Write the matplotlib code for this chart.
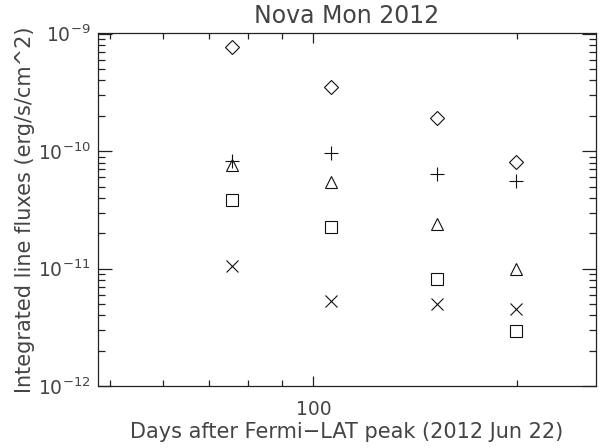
import matplotlib
matplotlib.use("Agg")
from matplotlib import pyplot as plt
from matplotlib import ticker

# days after Fermi-LAT peak
days = [75.8, 106, 152, 199]

# integrated line fluxes (erg/s/cm^2), one list per line
diamond = [7.7e-10, 3.55e-10, 1.93e-10, 8.1e-11]
plus = [8.2e-11, 9.7e-11, 6.45e-11, 5.55e-11]
triangle = [7.6e-11, 5.45e-11, 2.4e-11, 9.9e-12]
square = [3.85e-11, 2.25e-11, 8.1e-12, 2.95e-12]
cross = [1.06e-11, 5.3e-12, 5.05e-12, 4.5e-12]

txt = "#444444"
plt.rcParams["font.family"] = ["DejaVu Sans"]
plt.rcParams["mathtext.fontset"] = "dejavusans"

fig = plt.figure(figsize=(6, 4.48), dpi=100)
ax = fig.add_axes([0.1625, 0.138, 0.8305, 0.789])

mk = dict(linestyle="none", markerfacecolor="none", markeredgecolor="#111111",
          markeredgewidth=0.8)
ax.plot(days, diamond, marker="D", markersize=7.5, **mk)
ax.plot(days, plus, marker="+", markersize=10, **mk)
ax.plot(days, triangle, marker="^", markersize=9, **mk)
ax.plot(days, square, marker="s", markersize=8.5, **mk)
ax.plot(days, cross, marker="x", markersize=9, **mk)

ax.set_xscale("log")
ax.set_yscale("log")
ax.set_xlim(48, 261)
ax.set_ylim(1e-12, 1.02e-9)

ax.xaxis.set_major_locator(ticker.LogLocator(base=10))
ax.xaxis.set_major_formatter(ticker.FuncFormatter(lambda v, p: "%d" % v))
ax.xaxis.set_minor_locator(ticker.LogLocator(base=10, subs=range(2, 10)))
ax.xaxis.set_minor_formatter(ticker.NullFormatter())
ax.yaxis.set_major_locator(ticker.LogLocator(base=10))
ax.yaxis.set_minor_locator(ticker.LogLocator(base=10, subs=range(2, 10)))
ax.yaxis.set_minor_formatter(ticker.NullFormatter())

ax.tick_params(axis="both", which="both", direction="in", top=True, right=True,
               colors="#222222", labelcolor=txt, width=0.9)
ax.tick_params(axis="x", which="major", length=7, labelsize=13.5, pad=10)
ax.tick_params(axis="x", which="minor", length=4)
ax.tick_params(axis="y", which="major", length=10, labelsize=13.5, pad=5)
ax.tick_params(axis="y", which="minor", length=5)
for s in ax.spines.values():
    s.set_linewidth(0.9)
    s.set_color("#222222")

ax.set_title("Nova Mon 2012", fontsize=17, color=txt, pad=7)
ax.set_xlabel("Days after Fermi\u2212LAT peak (2012 Jun 22)", fontsize=15,
              color=txt, labelpad=2)
ax.set_ylabel("Integrated line fluxes (erg/s/cm^2)", fontsize=15, color=txt,
              labelpad=2)

fig.savefig("out.png", dpi=100)
